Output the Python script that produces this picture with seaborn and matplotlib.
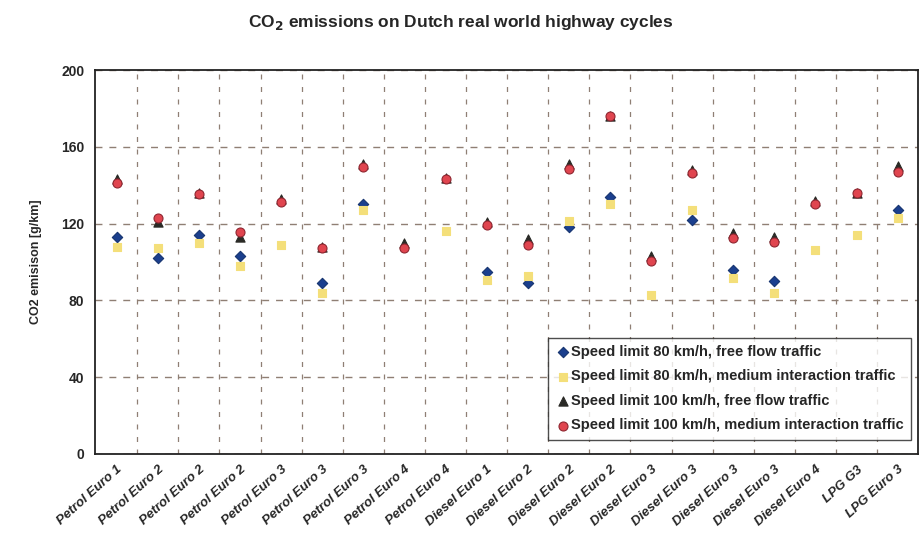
import numpy as np
import pandas as pd
import matplotlib
matplotlib.use("Agg")
import matplotlib.pyplot as plt
import seaborn as sns

# Categories (vehicle classes) on the x axis
categories = ["Petrol Euro 1", "Petrol Euro 2", "Petrol Euro 2", "Petrol Euro 2",
              "Petrol Euro 3", "Petrol Euro 3", "Petrol Euro 3", "Petrol Euro 4",
              "Petrol Euro 4", "Diesel Euro 1", "Diesel Euro 2", "Diesel Euro 2",
              "Diesel Euro 2", "Diesel Euro 3", "Diesel Euro 3", "Diesel Euro 3",
              "Diesel Euro 3", "Diesel Euro 4", "LPG G3", "LPG Euro 3"]

nan = np.nan
# CO2 emissions [g/km]
v80_free = [113, 102, 114, 103, nan, 89, 130, nan, nan, 95,
            89, 118, 134, nan, 122, 96, 90, nan, nan, 127]
v80_medium = [108, 107, 110, 98, 109, 84, 127, nan, 116, 90.5,
              92.5, 121.5, 130, 83, 127, 91.5, 84, 106, 114, 123]
v100_free = [143, 121, 136, 113, 133, 108, 151, 110, 144, 121,
             112, 151, 176, 103, 148, 115, 113, 132, 136, 150]
v100_medium = [141, 123, 135.5, 115.5, 131.5, 107, 149.5, 107.5, 143, 119,
               109, 148.5, 176, 100.5, 146.5, 112.5, 110.5, 130, 136, 147]

series_names = ["Speed limit 80 km/h, free flow traffic",
                "Speed limit 80 km/h, medium interaction traffic",
                "Speed limit 100 km/h, free flow traffic",
                "Speed limit 100 km/h, medium interaction traffic"]
series_values = [v80_free, v80_medium, v100_free, v100_medium]

styles = [dict(marker="D", color="#1b3f8e", edgecolor="#16346f", s=28),
          dict(marker="s", color="#f4df7a", edgecolor="#f4df7a", s=32),
          dict(marker="^", color="#2a2a26", edgecolor="#2a2a26", s=44),
          dict(marker="o", color="#e0454f", edgecolor="#8f2630", s=42)]

sns.set_style("white")
plt.rcParams["font.family"] = ["Liberation Sans", "DejaVu Sans"]

fig = plt.figure(figsize=(9.21, 5.52), dpi=100)
ax = fig.add_axes([0.103, 0.178, 0.894, 0.695])

pos = np.arange(len(categories))
for name, vals, st in zip(series_names, series_values, styles):
    df = pd.DataFrame({"pos": pos, "value": vals}).dropna()
    sns.scatterplot(data=df, x="pos", y="value", ax=ax, label=name,
                    linewidth=0.8, zorder=3, **st)

ax.set_xlim(-0.53, len(categories) - 0.63)
ax.set_ylim(0, 200)
ax.set_yticks([0, 40, 80, 120, 160, 200])
ax.set_xticks(pos)
ax.set_xticklabels(categories, rotation=42, ha="right", rotation_mode="anchor",
                   fontstyle="italic", fontweight="bold", fontsize=9.5)
ax.set_xticks(pos + 0.5, minor=True)
ax.tick_params(axis="x", which="major", length=0, pad=7)
ax.tick_params(axis="x", which="minor", length=5, direction="inout", color="#333333")
ax.tick_params(axis="y", length=7, direction="inout", labelsize=10, pad=4)
for lab in ax.get_yticklabels():
    lab.set_fontweight("bold")

grid_col = "#8f7f74"
ax.grid(axis="y", which="major", color=grid_col, linestyle=(0, (5, 5)), linewidth=1.0)
ax.grid(axis="x", which="minor", color=grid_col, linestyle=(0, (4, 6)), linewidth=0.9)
ax.set_axisbelow(True)

for sp in ax.spines.values():
    sp.set_visible(True)
    sp.set_color("#222222")
    sp.set_linewidth(1.3)

ax.set_xlabel("")
ax.set_ylabel("CO2 emisison [g/km]", fontsize=9, fontweight="bold", labelpad=14)

fig.suptitle("CO$_\\mathbf{2}$ emissions on Dutch real world highway cycles",
             fontsize=12.5, fontweight="bold", y=0.977, x=0.5)

leg = ax.legend(loc="lower right", bbox_to_anchor=(0.997, 0.025),
                prop={"size": 10.5, "weight": "bold"},
                frameon=True, fancybox=False, edgecolor="#222222",
                handletextpad=0.1, handlelength=1.0, labelspacing=0.72,
                borderpad=0.5, borderaxespad=0.3, markerscale=1.0)
leg.get_frame().set_linewidth(1.0)

fig.savefig("out.png", dpi=100)
